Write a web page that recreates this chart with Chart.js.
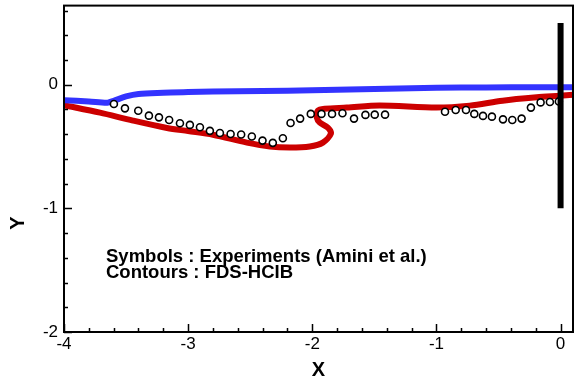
<!DOCTYPE html>
<html>
<head>
<meta charset="utf-8">
<script src="https://cdn.jsdelivr.net/npm/chart.js@4/dist/chart.umd.min.js"></script>
<style>
  html, body { margin: 0; padding: 0; background: #fff; }
  #wrap { width: 583px; height: 384px; }
</style>
</head>
<body>
<div id="wrap"><canvas id="chart" width="583" height="384"></canvas></div>
<script>
// axis ticks
const xTicks = [-4, -3, -2, -1, 0];
const yTicks = [-2, -1, 0];

// FDS-HCIB contour (red), ordered along the contour
const redX = [-4.0, -3.71, -3.445, -3.17, -3.0, -2.8, -2.527, -2.342, -2.181, -2.02, -1.915, -1.85, -1.875, -1.94, -1.964, -1.956, -1.9, -1.722, -1.457, -1.0, -0.732, -0.467, -0.193, -0.008, 0.1];
const redY = [-0.165, -0.226, -0.29, -0.35, -0.375, -0.405, -0.468, -0.5, -0.508, -0.5, -0.468, -0.395, -0.347, -0.306, -0.266, -0.21, -0.194, -0.185, -0.169, -0.185, -0.169, -0.129, -0.102, -0.089, -0.081];

// FDS-HCIB contour (blue)
const blueX = [-4.0, -3.8, -3.65, -3.6, -3.5, -3.4, -3.2, -3.0, -2.6, -2.2, -1.8, -1.4, -1.0, -0.6, -0.2, 0.1];
const blueY = [-0.125, -0.135, -0.145, -0.13, -0.095, -0.075, -0.065, -0.058, -0.052, -0.048, -0.04, -0.032, -0.025, -0.022, -0.02, -0.02];

// experiments (Amini et al.)
const expX = [-3.598, -3.509, -3.402, -3.316, -3.235, -3.153, -3.066, -2.986, -2.905, -2.825, -2.744, -2.658, -2.573, -2.487, -2.401, -2.318, -2.237, -2.175, -2.098, -2.012, -1.926, -1.841, -1.757, -1.664, -1.572, -1.497, -1.414, -0.931, -0.845, -0.762, -0.695, -0.625, -0.553, -0.464, -0.389, -0.314, -0.239, -0.161, -0.086, -0.014];
const expY = [-0.156, -0.191, -0.21, -0.25, -0.264, -0.285, -0.312, -0.325, -0.344, -0.373, -0.39, -0.398, -0.403, -0.419, -0.452, -0.47, -0.433, -0.309, -0.274, -0.236, -0.236, -0.236, -0.231, -0.274, -0.244, -0.242, -0.242, -0.218, -0.204, -0.204, -0.236, -0.252, -0.258, -0.28, -0.285, -0.274, -0.185, -0.143, -0.14, -0.135];

// plate
const plateX = [0, 0];
const plateY = [-1, 0.5];

const notes = ["Symbols : Experiments (Amini et al.)", "Contours : FDS-HCIB"];

const pts = (xs, ys) => xs.map((x, i) => ({ x: x, y: ys[i] }));
const FONT = "'Liberation Sans', Arial, sans-serif";

const framePlugin = {
  id: "frame",
  afterDatasetsDraw(chart) {
    const { ctx, chartArea: a, scales } = chart;
    const xs = scales.x, ys = scales.y;
    ctx.save();
    ctx.strokeStyle = "#000";
    ctx.lineWidth = 1.5;
    ctx.beginPath();
    // x ticks, inward from the bottom
    for (let v = -4; v <= 0.0001; v += 0.2) {
      const px = Math.round(xs.getPixelForValue(v)) + 0.5;
      const major = Math.abs(v - Math.round(v)) < 1e-6;
      ctx.moveTo(px, a.bottom);
      ctx.lineTo(px, a.bottom - (major ? 8 : 4));
    }
    // y ticks, inward from the left
    for (let v = -2; v <= 0.6; v += 0.2) {
      const py = Math.round(ys.getPixelForValue(v)) + 0.5;
      const major = Math.abs(v - Math.round(v)) < 1e-6;
      ctx.moveTo(a.left, py);
      ctx.lineTo(a.left + (major ? 8 : 4), py);
    }
    ctx.stroke();
    ctx.lineWidth = 2;
    ctx.strokeRect(a.left, a.top, a.right - a.left, a.bottom - a.top);

    ctx.fillStyle = "#000";
    ctx.font = "bold 18.5px " + FONT;
    ctx.textAlign = "left";
    ctx.textBaseline = "alphabetic";
    ctx.fillText(notes[0], 106, 262);
    ctx.fillText(notes[1], 106, 278);

    ctx.font = "bold 20px " + FONT;
    ctx.textAlign = "center";
    ctx.textBaseline = "middle";
    ctx.fillText("X", (a.left + a.right) / 2, 370);
    ctx.translate(18, 223);
    ctx.rotate(-Math.PI / 2);
    ctx.fillText("Y", 0, 0);
    ctx.restore();
  }
};

const noPad = (s) => { s.paddingTop = 0; s.paddingBottom = 0; s.paddingLeft = 0; s.paddingRight = 0; };

new Chart(document.getElementById("chart"), {
  type: "scatter",
  data: {
    datasets: [
      {
        label: "plate",
        data: pts(plateX, plateY),
        showLine: true,
        borderColor: "#000",
        borderWidth: 6,
        borderCapStyle: "butt",
        pointRadius: 0,
        order: 0
      },
      {
        label: "Experiments",
        data: pts(expX, expY),
        showLine: false,
        pointRadius: 3.5,
        pointBorderWidth: 1.6,
        pointBorderColor: "#000",
        pointBackgroundColor: "#fff",
        order: 1
      },
      {
        label: "blue",
        data: pts(blueX, blueY),
        showLine: true,
        borderColor: "#3333ff",
        borderWidth: 6,
        tension: 0.3,
        pointRadius: 0,
        clip: 0,
        order: 2
      },
      {
        label: "red",
        data: pts(redX, redY),
        showLine: true,
        borderColor: "#cc0000",
        borderWidth: 6,
        tension: 0.3,
        pointRadius: 0,
        clip: 0,
        order: 3
      }
    ]
  },
  options: {
    responsive: false,
    animation: false,
    layout: { padding: { top: 5, right: 10, left: 0, bottom: 0 } },
    plugins: { legend: { display: false }, tooltip: { enabled: false } },
    scales: {
      x: {
        type: "linear",
        min: -4,
        max: 0.1,
        grid: { display: false, drawTicks: false },
        border: { display: false },
        afterBuildTicks: (s) => { s.ticks = xTicks.map(v => ({ value: v })); },
        afterFit: (s) => { s.height = 52; noPad(s); },
        ticks: { color: "#000", font: { family: FONT, size: 17 }, padding: 2, maxRotation: 0 }
      },
      y: {
        type: "linear",
        min: -2,
        max: 0.64,
        grid: { display: false, drawTicks: false },
        border: { display: false },
        afterBuildTicks: (s) => { s.ticks = yTicks.map(v => ({ value: v })); },
        afterFit: (s) => { s.width = 64; noPad(s); },
        ticks: { color: "#000", font: { family: FONT, size: 17 }, padding: 6 }
      }
    }
  },
  plugins: [framePlugin]
});
</script>
</body>
</html>
